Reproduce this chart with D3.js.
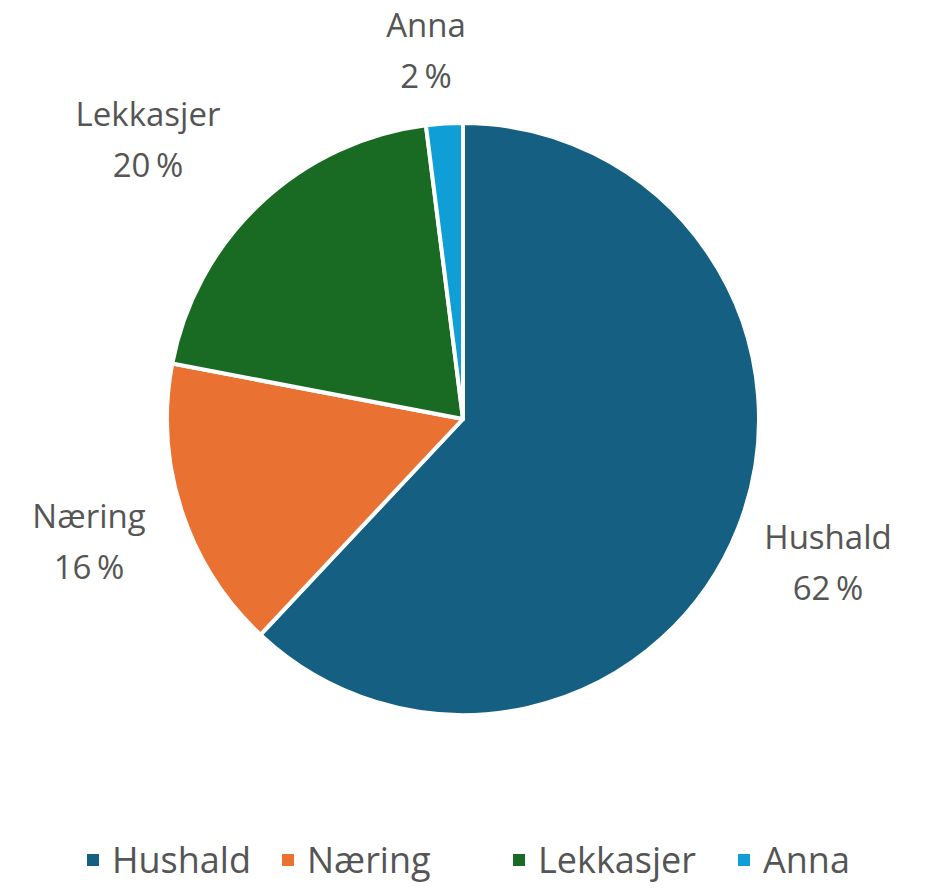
<!DOCTYPE html>
<html>
<head>
<meta charset="utf-8">
<script src="https://cdn.jsdelivr.net/npm/d3@7"></script>
<style>
  body { margin: 0; background: #fff; }
  svg text { font-family: "Open Sans", sans-serif; fill: #555555; }
</style>
</head>
<body>
<svg id="svg1" width="934" height="889"></svg>
<script>
var categories = ["Hushald", "Næring", "Lekkasjer", "Anna"];
var values = [62, 16, 20, 2];
var colors = ["#156082", "#E97132", "#196B24", "#0F9ED5"];

// label anchor points (centre x, first baseline), set by hand
var labelPos = [[828, 549], [89, 528], [148, 126], [426, 37]];

var width = 934;
var height = 889;
var cx = 463, cy = 419, radius = 296;

var svg = d3.select('#svg1');

var data = categories.map(function (c, i) { return { name: c, value: values[i], color: colors[i] }; });

var pie = d3.pie()
    .sort(null)
    .value(function (d) { return d.value; });

var arc = d3.arc()
    .innerRadius(0)
    .outerRadius(radius);

var g = svg.append('g')
    .attr('transform', 'translate(' + cx + ',' + cy + ')');

g.selectAll('path')
    .data(pie(data))
    .enter()
    .append('path')
    .attr('d', arc)
    .attr('fill', function (d) { return d.data.color; })
    .attr('stroke', 'white')
    .attr('stroke-width', 4)
    .attr('stroke-linejoin', 'round');

// data labels
var labels = svg.selectAll('.lbl')
    .data(data)
    .enter()
    .append('text')
    .attr('class', 'lbl')
    .attr('text-anchor', 'middle')
    .style('font-size', '33px');

labels.append('tspan')
    .attr('x', function (d, i) { return labelPos[i][0]; })
    .attr('y', function (d, i) { return labelPos[i][1]; })
    .text(function (d) { return d.name; });

labels.append('tspan')
    .attr('x', function (d, i) { return labelPos[i][0]; })
    .attr('dy', 51)
    .text(function (d) { return d.value + '\u2009%'; });

// legend
var legendX = [87, 282, 513, 738];
var legend = svg.selectAll('.leg')
    .data(data)
    .enter()
    .append('g')
    .attr('class', 'leg')
    .attr('transform', function (d, i) { return 'translate(' + legendX[i] + ',860)'; });

legend.append('rect')
    .attr('x', 0)
    .attr('y', -6)
    .attr('width', 12)
    .attr('height', 12)
    .attr('fill', function (d) { return d.color; });

legend.append('text')
    .attr('x', 25)
    .attr('y', 13)
    .style('font-size', '36px')
    .text(function (d) { return d.name; });
</script>
</body>
</html>
